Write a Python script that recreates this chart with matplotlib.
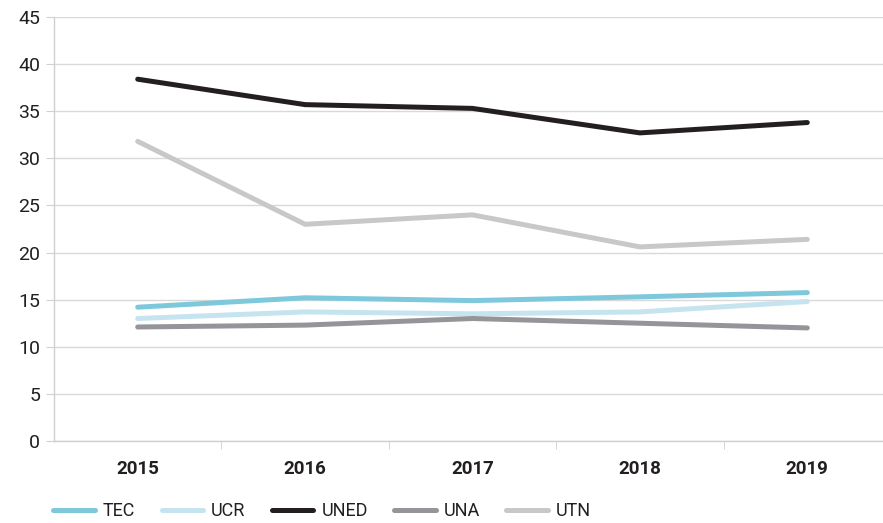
import matplotlib
matplotlib.use('Agg')
import matplotlib.pyplot as plt

years = ['2015', '2016', '2017', '2018', '2019']
tec = [14.2, 15.2, 14.9, 15.3, 15.75]
ucr = [13.0, 13.7, 13.5, 13.7, 14.8]
uned = [38.4, 35.7, 35.3, 32.7, 33.8]
una = [12.1, 12.3, 13.0, 12.5, 12.0]
utn = [31.8, 23.0, 24.0, 20.6, 21.4]

series = [('TEC', tec, '#7ec8dc'),
          ('UCR', ucr, '#c5e4ef'),
          ('UNED', uned, '#231f20'),
          ('UNA', una, '#939598'),
          ('UTN', utn, '#c8c8c8')]

plt.rcParams['font.family'] = ['Roboto', 'DejaVu Sans']

fig = plt.figure(figsize=(8.83, 5.23), dpi=100)
ax = fig.add_axes([54/883, 82/523, 837/883, 424/523])

x = range(len(years))
for name, vals, col in series:
    ax.plot(x, vals, color=col, lw=3.6, solid_capstyle='round',
            solid_joinstyle='round', label=name, zorder=3)

ax.set_ylim(0, 45)
ax.set_yticks(range(0, 46, 5))
ax.set_xlim(-0.5, 4.5)
ax.set_xticks(x)
ax.set_xticklabels(years, fontsize=13.5, fontweight='bold', color='#231f20')
ax.set_xticks([0.5, 1.5, 2.5, 3.5], minor=True)
ax.tick_params(axis='x', which='major', length=0, pad=14)
ax.tick_params(axis='x', which='minor', length=6, color='#d0d0d0')
ax.tick_params(axis='y', length=6, color='#d0d0d0', labelsize=14,
               labelcolor='#231f20', pad=4)
ax.grid(axis='y', color='#d9d9d9', lw=1, zorder=0)
for s in ['top', 'right']:
    ax.spines[s].set_visible(False)
for s in ['left', 'bottom']:
    ax.spines[s].set_color('#d0d0d0')
    ax.spines[s].set_linewidth(1)

fig.legend(loc='lower left', bbox_to_anchor=(0.042, -0.025), ncol=5,
           frameon=False, fontsize=13, handlelength=2.3, columnspacing=1.45,
           handletextpad=0.45, labelcolor='#231f20')

fig.savefig('out.png', dpi=100)
